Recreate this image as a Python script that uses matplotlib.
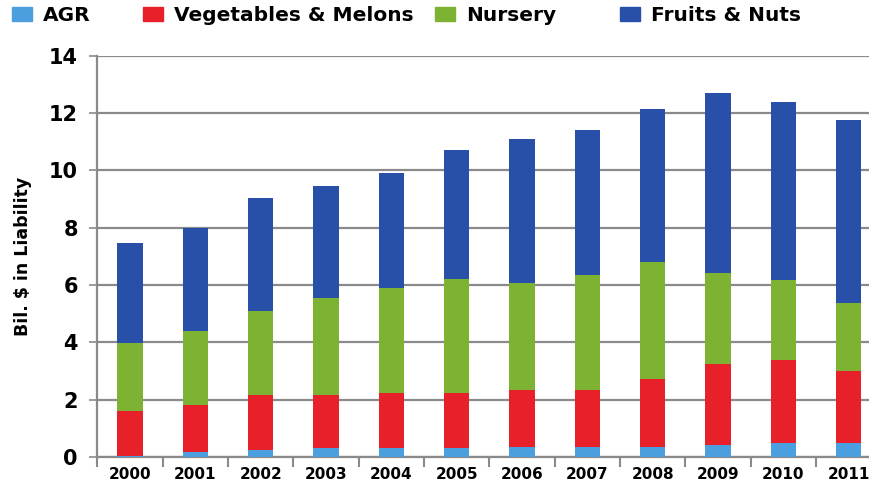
import numpy as np
import matplotlib.pyplot as plt
from matplotlib.patches import Patch

# Dados (bilhões de dólares)
anos = ['2000', '2001', '2002', '2003', '2004', '2005',
        '2006', '2007', '2008', '2009', '2010', '2011']
agr = [0.02, 0.18, 0.24, 0.30, 0.30, 0.30, 0.34, 0.34, 0.34, 0.42, 0.48, 0.48]
vegetais = [1.58, 1.62, 1.91, 1.88, 1.95, 1.95, 2.01, 2.01, 2.39, 2.83, 2.89, 2.52]
viveiro = [2.37, 2.60, 2.95, 3.35, 3.65, 3.95, 3.73, 4.00, 4.07, 3.18, 2.80, 2.38]
frutas = [3.48, 3.60, 3.95, 3.92, 4.00, 4.50, 5.02, 5.07, 5.35, 6.27, 6.23, 6.37]

series = ['AGR', 'Vegetables & Melons', 'Nursery', 'Fruits & Nuts']
cores = ['#4b9fdf', '#e8202a', '#7db232', '#2850a8']

plt.rcParams['font.family'] = ['DejaVu Sans']
plt.rcParams['font.weight'] = 'bold'

fig = plt.figure(figsize=(8.69, 4.93), dpi=100)
ax = fig.add_axes([0.112, 0.073, 0.888, 0.814])

x = np.arange(len(anos))
base = np.zeros(len(anos))
for valores, cor in zip([agr, vegetais, viveiro, frutas], cores):
    ax.bar(x, valores, width=0.39, bottom=base, color=cor, zorder=3)
    base += np.array(valores)

ax.set_ylim(0, 14)
ax.set_xlim(-0.47, 11.31)
ax.set_yticks(range(0, 15, 2))
ax.yaxis.grid(True, color='#8a8a8a', linewidth=1.6, zorder=0)
ax.tick_params(axis='y', length=6, width=1.2, color='#8a8a8a', labelsize=15, pad=8)

ax.set_xticks(x)
ax.set_xticklabels(anos, fontsize=11, fontweight='bold')
ax.set_xticks(np.arange(len(anos)) - 0.5, minor=True)
ax.tick_params(axis='x', which='major', length=0, pad=7)
ax.tick_params(axis='x', which='minor', length=7, width=1.5, color='#8a8a8a', direction='out')

for lado in ['top', 'right']:
    ax.spines[lado].set_visible(False)
for lado in ['left', 'bottom']:
    ax.spines[lado].set_color('#8a8a8a')
    ax.spines[lado].set_linewidth(1.6)

ax.set_ylabel('Bil. $ in Liability', fontsize=12.5, fontweight='bold', labelpad=12)

# Legenda no topo, cada item na sua posição
pos_legenda = [0.0138, 0.1646, 0.5006, 0.7135]
for nome, cor, px in zip(series, cores, pos_legenda):
    fig.legend(handles=[Patch(color=cor)], labels=[nome], loc='upper left',
               bbox_to_anchor=(px, 0.988), frameon=False, fontsize=14.5,
               handlelength=1.0, handleheight=0.75, handletextpad=0.55,
               borderpad=0, borderaxespad=0)

plt.savefig('out.png', dpi=100)
